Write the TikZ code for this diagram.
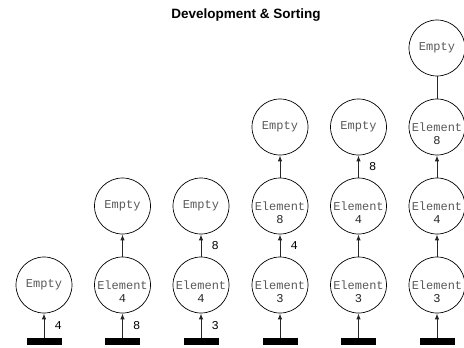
\documentclass[tikz,border=0pt]{standalone}
\usepackage{fontspec}
\setmainfont{Liberation Sans}
\newfontfamily\courfont{Liberation Mono}
\usetikzlibrary{arrows.meta}
\tikzset{
  circ/.style={circle, draw=black, line width=0.7pt, minimum size=56pt, inner sep=0pt,
    font=\courfont\fontsize{12}{14}\selectfont, text=black!65},
  wtext/.style={font=\courfont\fontsize{12}{14}\selectfont, text=black!65, inner sep=0pt},
  ntext/.style={font=\courfont\fontsize{12}{14}\selectfont, text=black!85, inner sep=0pt},
  lab/.style={font=\courfont\fontsize{12}{14}\selectfont, text=black, inner sep=0pt},
  barbox/.style={rectangle, fill=black, minimum width=35pt, minimum height=7pt, inner sep=0pt},
  arr/.style={draw=black!85, line width=1pt, -{Latex[length=6pt,width=4.5pt]}},
  plain/.style={draw=black!85, line width=1pt},
  titletext/.style={font=\bfseries\fontsize{13.5}{16}\selectfont, inner sep=0pt}
}
\newcommand\elnode[4]{\node[circ,
  label={[wtext]center:Element},
  label={[ntext,yshift=-14pt]center:#4}] (#1) at (#2,#3) {};}
\newcommand\emnode[3]{\node[circ] (#1) at (#2,#3) {Empty};}
\begin{document}
\begin{tikzpicture}[x=1pt,y=-1pt]
\useasboundingbox (0,0) rectangle (464,348);
\node[titletext] (title) at (246,15) {Development \& Sorting};
% column 1
\emnode{c11}{44}{285}
\node[barbox] (b1) at (44,341.5) {};
\draw[arr] (b1.north) -- (c11.south) node[lab, midway, right, xshift=10pt] (l1) {4};
% column 2
\elnode{c21}{122.5}{285}{4}
\emnode{c22}{122.5}{206}
\node[barbox] (b2) at (122.5,341.5) {};
\draw[arr] (b2.north) -- (c21.south) node[lab, midway, right, xshift=10pt] (l2) {8};
\draw[arr] (c21.north) -- (c22.south);
% column 3
\elnode{c31}{201}{285}{4}
\emnode{c32}{201}{206}
\node[barbox] (b3) at (201,341.5) {};
\draw[arr] (b3.north) -- (c31.south) node[lab, midway, right, xshift=10pt] (l3) {3};
\draw[arr] (c31.north) -- (c32.south) node[lab, midway, right, xshift=10pt] (l3b) {8};
% column 4
\elnode{c41}{280}{285}{3}
\elnode{c42}{280}{206}{8}
\emnode{c43}{280}{127}
\node[barbox] (b4) at (280,341.5) {};
\draw[arr] (b4.north) -- (c41.south);
\draw[arr] (c41.north) -- (c42.south) node[lab, midway, right, xshift=10pt] (l4) {4};
\draw[arr] (c42.north) -- (c43.south);
% column 5
\elnode{c51}{358.5}{285}{3}
\elnode{c52}{358.5}{206}{4}
\emnode{c53}{358.5}{127}
\node[barbox] (b5) at (358.5,341.5) {};
\draw[arr] (b5.north) -- (c51.south);
\draw[arr] (c51.north) -- (c52.south);
\draw[arr] (c52.north) -- (c53.south) node[lab, midway, right, xshift=10pt] (l5) {8};
% column 6
\elnode{c61}{437}{285}{3}
\elnode{c62}{437}{206}{4}
\elnode{c63}{437}{127}{8}
\emnode{c64}{437}{48}
\node[barbox] (b6) at (437,341.5) {};
\draw[arr] (b6.north) -- (c61.south);
\draw[arr] (c61.north) -- (c62.south);
\draw[arr] (c62.north) -- (c63.south);
\draw[plain] (c63.north) -- (c64.south);
\end{tikzpicture}
\end{document}
